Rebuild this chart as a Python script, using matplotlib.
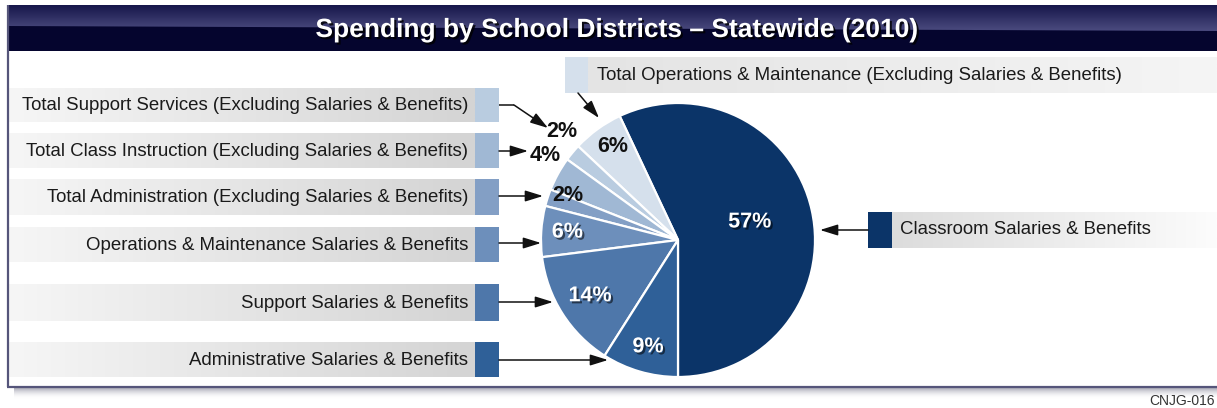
import matplotlib
matplotlib.use("Agg")
import matplotlib.pyplot as plt
import numpy as np
from matplotlib import patheffects as pe
from matplotlib.patches import Polygon
from matplotlib.colors import to_rgb

# ---- data -------------------------------------------------------------
title = "Spending by School Districts \u2013 Statewide (2010)"
categories = [
    "Classroom Salaries & Benefits",
    "Total Operations & Maintenance (Excluding Salaries & Benefits)",
    "Total Support Services (Excluding Salaries & Benefits)",
    "Total Class Instruction (Excluding Salaries & Benefits)",
    "Total Administration (Excluding Salaries & Benefits)",
    "Operations & Maintenance Salaries & Benefits",
    "Support Salaries & Benefits",
    "Administrative Salaries & Benefits",
]
shares = [57, 6, 2, 4, 2, 6, 14, 9]
colors = ["#0b3468", "#d5e0ec", "#b9cce0", "#a0b8d4",
          "#839fc5", "#6d8fbb", "#4e77aa", "#2f6098"]
doc_code = "CNJG-016"

# ---- layout (pixel units, y measured downward) ------------------------
W, H = 1217, 408
FONT = "Liberation Sans"
plt.rcParams["font.family"] = [FONT, "DejaVu Sans"]

cx, cy, R = 678, 240, 137

# label radius (fraction of R), angle nudge (deg), text colour
label_style = [
    (0.54, 1.5, "white"),
    (0.83, -1.0, "#111111"),
    (1.16, -3.5, "#111111"),
    (1.15, -3.5, "#111111"),
    (0.87, -4.0, "#111111"),
    (0.81, -0.5, "white"),
    (0.76, 0.0, "white"),
    (0.81, 0.5, "white"),
]

# legend rows on the left: (top, bottom)
left_rows = {2: (88, 122), 3: (133, 168), 4: (179, 215),
             5: (227, 262), 6: (284, 321), 7: (342, 377)}
# arrow polylines from each legend swatch toward its slice
arrows = {
    0: [(868, 230), (820, 230)],
    1: [(578, 93), (599, 118)],
    2: [(499, 105), (514, 105), (548, 128)],
    3: [(499, 151), (528, 151)],
    4: [(499, 196), (543, 196)],
    5: [(499, 243), (541, 243)],
    6: [(499, 302), (553, 302)],
    7: [(499, 360), (608, 360)],
}

fig = plt.figure(figsize=(W / 100, H / 100), dpi=100)
fig.patch.set_facecolor("white")

# background / frame axes
ax = fig.add_axes([0, 0, 1, 1], zorder=0)
ax.set_xlim(0, W)
ax.set_ylim(H, 0)
ax.axis("off")


def hgrad(a, x0, x1, y0, y1, c0, c1, z=1, alpha=1.0):
    c0, c1 = np.array(to_rgb(c0)), np.array(to_rgb(c1))
    t = np.linspace(0, 1, 256)[None, :, None]
    img = c0 + (c1 - c0) * t
    return a.imshow(img, extent=(x0, x1, y1, y0), aspect="auto",
                    interpolation="bilinear", zorder=z, alpha=alpha)


def vgrad(a, x0, x1, y0, y1, c0, c1, z=1, alpha=None):
    c0, c1 = np.array(to_rgb(c0)), np.array(to_rgb(c1))
    t = np.linspace(0, 1, 256)[:, None, None]
    img = c0 + (c1 - c0) * t
    if alpha is not None:
        a_ch = np.linspace(alpha[0], alpha[1], 256)[:, None, None]
        img = np.concatenate([img, a_ch], axis=2)
    return a.imshow(img, extent=(x0, x1, y1, y0), aspect="auto",
                    interpolation="bilinear", zorder=z)


# title bar
ax.add_patch(plt.Rectangle((7, 5), W, 46, facecolor="#05052e",
                           edgecolor="none", zorder=2))
hl = vgrad(ax, 7, W, 5, 31, "#16164a", "#4c4c80", z=3)
clip = Polygon([(7, 5), (W, 5), (W, 31), (7, 26)], closed=True,
               transform=ax.transData, facecolor="none", edgecolor="none")
ax.add_patch(clip)
hl.set_clip_path(clip)
ax.text(617, 30, title, color="white", fontsize=19, fontweight="bold",
        ha="center", va="center", zorder=5,
        path_effects=[pe.withSimplePatchShadow(offset=(1.5, -1.5),
                                               shadow_rgbFace="black",
                                               alpha=0.8)])

# frame and drop shadow
vgrad(ax, 14, W, 387, 399, "#8e8ea0", "#ffffff", z=1, alpha=(0.9, 0.0))
ax.plot([7.5, 7.5], [5, 386.5], color="#55557a", lw=1.6, zorder=4,
        solid_capstyle="butt")
ax.plot([7, W], [386.5, 386.5], color="#55557a", lw=1.6, zorder=4,
        solid_capstyle="butt")
ax.text(1215, 401, doc_code, fontsize=10, color="#333333",
        ha="right", va="center", zorder=4)

LABEL_FS = 13.4
TXT = "#1a1a1a"

# left legend rows
for i, (t0, t1) in left_rows.items():
    hgrad(ax, 9, 475, t0, t1, "#f6f6f6", "#d4d4d4", z=2)
    ax.add_patch(plt.Rectangle((475, t0), 24, t1 - t0, facecolor=colors[i],
                               edgecolor="none", zorder=3))
    ax.text(468, (t0 + t1) / 2 + 1, categories[i], fontsize=LABEL_FS,
            color=TXT, ha="right", va="center", zorder=4)

# top-right legend row
hgrad(ax, 588, W, 57, 93, "#e4e4e4", "#f5f5f5", z=2)
ax.add_patch(plt.Rectangle((565, 57), 23, 36, facecolor=colors[1],
                           edgecolor="none", zorder=3))
ax.text(597, 75, categories[1], fontsize=LABEL_FS, color=TXT,
        ha="left", va="center", zorder=4)

# classroom legend row
hgrad(ax, 892, W, 212, 248, "#dcdcdc", "#fcfcfc", z=2)
ax.add_patch(plt.Rectangle((868, 212), 24, 36, facecolor=colors[0],
                           edgecolor="none", zorder=3))
ax.text(900, 230, categories[0], fontsize=LABEL_FS, color=TXT,
        ha="left", va="center", zorder=4)

# pie
pad = 3
pax = fig.add_axes([(cx - R - pad) / W, (H - cy - R - pad) / H,
                    2 * (R + pad) / W, 2 * (R + pad) / H], zorder=1)
wedges, _ = pax.pie(shares, colors=colors, startangle=270, counterclock=True,
                    radius=1.0,
                    wedgeprops=dict(edgecolor="white", linewidth=1.6))
lim = (R + pad) / R
pax.set_xlim(-lim, lim)
pax.set_ylim(-lim, lim)
pax.set_aspect("equal")
pax.axis("off")

shadow = [pe.withSimplePatchShadow(offset=(1.5, -1.5), shadow_rgbFace="black",
                                   alpha=0.55)]
for w, v, (rf, nudge, col) in zip(wedges, shares, label_style):
    mid = np.deg2rad((w.theta1 + w.theta2) / 2 + nudge)
    kw = dict(path_effects=shadow) if col == "white" else {}
    pax.text(rf * np.cos(mid), rf * np.sin(mid), f"{v}%", color=col,
             fontsize=15.5, fontweight="bold", ha="center", va="center",
             zorder=5, clip_on=False, **kw)

# arrows overlay
aax = fig.add_axes([0, 0, 1, 1], zorder=3)
aax.set_xlim(0, W)
aax.set_ylim(H, 0)
aax.axis("off")
aax.patch.set_alpha(0)
for i, pts in arrows.items():
    if len(pts) > 2:
        xs, ys = zip(*pts[:-1])
        aax.plot(xs, ys, color="#111111", lw=1.1, solid_capstyle="butt")
    aax.annotate("", xy=pts[-1], xytext=pts[-2],
                 arrowprops=dict(arrowstyle="-|>,head_length=0.9,head_width=0.28",
                                 color="#111111", lw=1.1, mutation_scale=12,
                                 shrinkA=0, shrinkB=0))

fig.savefig("out.png", dpi=100, facecolor="white")
